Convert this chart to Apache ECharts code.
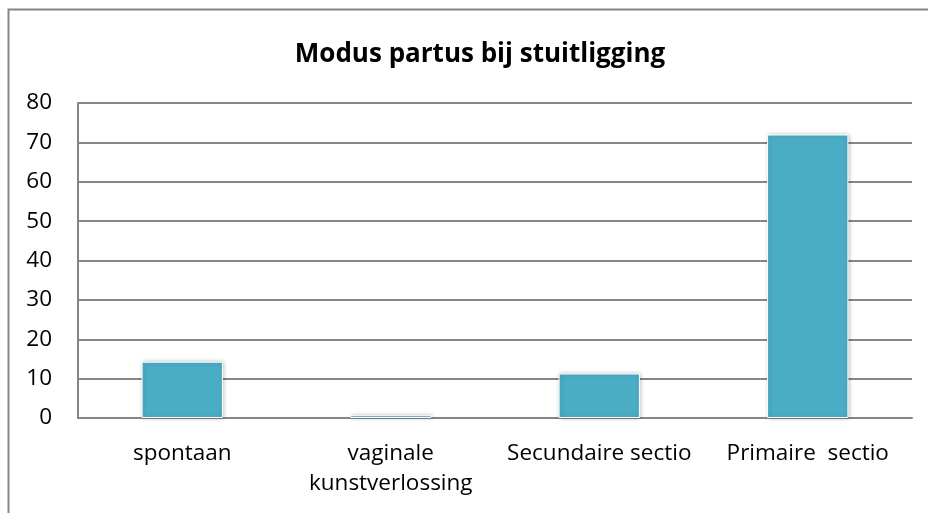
<!DOCTYPE html>
<html>
<head>
<meta charset="utf-8">
<style>
  html, body { margin: 0; padding: 0; background: #fff; }
  #chart { width: 928px; height: 513px; }
</style>
<script src="https://cdn.jsdelivr.net/npm/echarts@6/dist/echarts.min.js"></script>
</head>
<body>
<div id="chart"></div>
<script>
const categories = ['spontaan', 'vaginale\nkunstverlossing', 'Secundaire sectio', 'Primaire  sectio'];
const values = [14.3, 0.7, 11.3, 72];
const yTicks = { min: 0, max: 80, interval: 10 };

const font = 'Open Sans, Noto Sans, sans-serif';
const gridColor = '#868686';

const chart = echarts.init(document.getElementById('chart'), null, { renderer: 'canvas' });
chart.setOption({
  animation: false,
  title: {
    text: 'Modus partus bij stuitligging',
    left: 475,
    textAlign: 'center',
    top: 37,
    textStyle: { fontFamily: font, fontSize: 26, fontWeight: 'bold', color: '#000' }
  },
  graphic: [{
    type: 'rect',
    shape: { x: 8.5, y: 9.5, width: 940, height: 540 },
    style: { fill: 'none', stroke: gridColor, lineWidth: 2 },
    z: 100
  }],
  grid: { left: 78, right: 16, top: 103, bottom: 95, containLabel: false },
  xAxis: {
    type: 'category',
    data: categories,
    axisLine: { show: true, lineStyle: { color: gridColor, width: 2 } },
    axisTick: { show: false },
    axisLabel: {
      color: '#000', fontFamily: font, fontSize: 22.5, margin: 21,
      lineHeight: 30, interval: 0
    }
  },
  yAxis: {
    type: 'value',
    min: yTicks.min, max: yTicks.max, interval: yTicks.interval,
    axisLine: { show: true, lineStyle: { color: gridColor, width: 2 } },
    axisTick: { show: false },
    splitLine: { lineStyle: { color: gridColor, width: 2 } },
    axisLabel: { color: '#000', fontFamily: font, fontSize: 22.5, margin: 26 }
  },
  series: [{
    type: 'bar',
    data: values,
    barWidth: '39%',
    itemStyle: {
      color: '#4BACC6',
      borderColor: '#fff',
      borderWidth: 1,
      shadowBlur: 4,
      shadowColor: 'rgba(0,0,0,0.25)',
      shadowOffsetX: 1,
      shadowOffsetY: 0
    }
  }]
});
</script>
</body>
</html>
